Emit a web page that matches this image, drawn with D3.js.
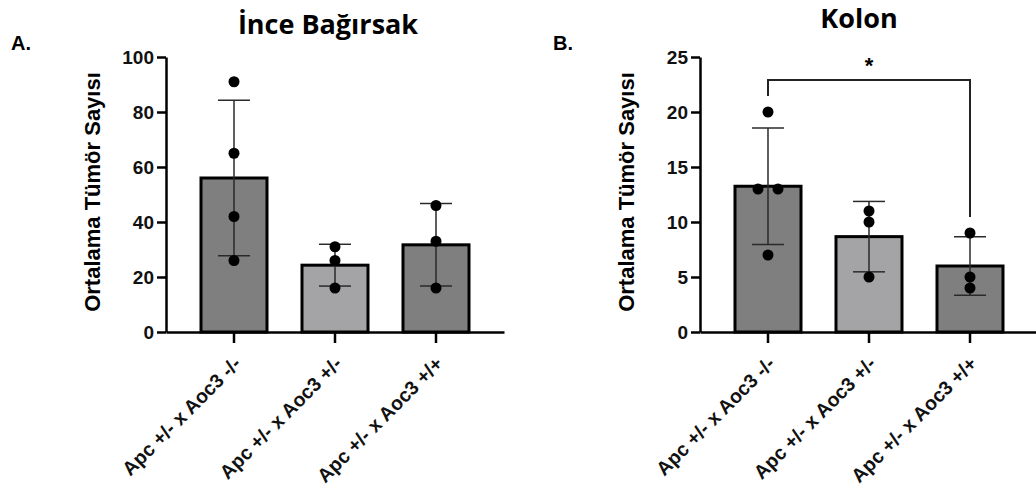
<!DOCTYPE html>
<html lang="tr">
<head>
  <meta charset="UTF-8">
  <title>Tümör Sayısı</title>
  <script src="https://d3js.org/d3.v7.min.js"></script>
  <style>
    body { margin: 0; background: #fff; }
    svg { display: block; }
    .axis path, .axis line { stroke: #000; stroke-width: 2.5; }
    .axis text { font-family: "Liberation Sans", Arial, sans-serif; font-weight: bold; fill: #111; }
  </style>
</head>
<body>
  <div id="chart"></div>
  <script>
    // veriler
    var categories = ["Apc +/- x Aoc3 -/-", "Apc +/- x Aoc3 +/-", "Apc +/- x Aoc3 +/+"];

    var inceMeans = [56, 24.3, 31.7];
    var inceSD = [28.3, 7.6, 15.0];
    var incePoints = [[91, 65, 42, 26], [31, 26, 16], [46, 33, 16]];
    var inceTicks = [0, 20, 40, 60, 80, 100];

    var kolonMeans = [13.25, 8.67, 6];
    var kolonSD = [5.3, 3.2, 2.65];
    var kolonPoints = [[20, 13, 13, 7], [11, 10, 5], [9, 5, 4]];
    var kolonTicks = [0, 5, 10, 15, 20, 25];
    var kolonSig = [{ from: 0, to: 2, label: "*" }];

    var barColors = ["#7f7f7f", "#a4a4a7", "#7f7f7f"];

    var W = 1036, H = 495;
    var svg = d3.select("#chart").append("svg").attr("width", W).attr("height", H);

    function drawPanel(opt) {
      var g = svg.append("g");
      var x = d3.scaleBand().domain(categories).range([opt.left, opt.right]).padding(0.3465);
      var y = d3.scaleLinear().domain([0, opt.max]).range([332, 57]);

      // başlık ve harf
      g.append("text").attr("x", opt.titleX).attr("y", opt.titleY)
        .attr("text-anchor", "middle")
        .style("font-family", "'Open Sans', sans-serif").style("font-weight", "bold").style("font-size", "27px")
        .text(opt.title);
      g.append("text").attr("x", opt.letterX).attr("y", 50)
        .style("font-family", "Liberation Sans, Arial, sans-serif").style("font-weight", "bold").style("font-size", "20px")
        .text(opt.letter);

      // y ekseni başlığı
      g.append("text")
        .attr("transform", "translate(" + (opt.left - 66) + "," + 192 + ") rotate(-90)")
        .attr("text-anchor", "middle")
        .style("font-family", "Liberation Sans, Arial, sans-serif").style("font-weight", "bold").style("font-size", "22px")
        .text("Ortalama Tümör Sayısı");

      // çubuklar
      g.selectAll(".bar").data(opt.means).enter().append("rect")
        .attr("x", (d, i) => x(categories[i]))
        .attr("y", d => y(d))
        .attr("width", x.bandwidth())
        .attr("height", d => y(0) - y(d))
        .attr("fill", (d, i) => barColors[i])
        .attr("stroke", "#000").attr("stroke-width", 3);

      // hata çubukları
      var cx = i => x(categories[i]) + x.bandwidth() / 2;
      opt.means.forEach(function (m, i) {
        var lo = y(m - opt.sd[i]), hi = y(m + opt.sd[i]);
        g.append("line").attr("x1", cx(i)).attr("x2", cx(i)).attr("y1", lo).attr("y2", hi)
          .attr("stroke", "#2a2a2a").attr("stroke-width", 1.5);
        [lo, hi].forEach(function (yy) {
          g.append("line").attr("x1", cx(i) - 16).attr("x2", cx(i) + 16).attr("y1", yy).attr("y2", yy)
            .attr("stroke", "#2a2a2a").attr("stroke-width", 1.5);
        });
      });

      // noktalar (aynı değerler yan yana)
      opt.points.forEach(function (pts, i) {
        pts.forEach(function (v, j) {
          var same = pts.filter(p => p === v).length;
          var k = pts.slice(0, j).filter(p => p === v).length;
          var off = same > 1 ? (k - (same - 1) / 2) * 20 : 0;
          g.append("circle").attr("cx", cx(i) + off).attr("cy", y(v)).attr("r", 5.5).attr("fill", "#000");
        });
      });

      // eksenler
      g.append("g").attr("class", "axis")
        .attr("transform", "translate(" + opt.left + ",0)")
        .call(d3.axisLeft(y).tickValues(opt.ticks).tickSize(9).tickSizeOuter(0).tickPadding(3))
        .selectAll("text").style("font-size", "19px");

      var xa = g.append("g").attr("class", "axis")
        .attr("transform", "translate(0," + y(0) + ")")
        .call(d3.axisBottom(x).tickSize(11).tickSizeOuter(0));
      xa.selectAll("text")
        .style("font-size", "19.5px")
        .attr("text-anchor", "end")
        .attr("dy", "0")
        .attr("y", 0)
        .attr("transform", "translate(8,33) rotate(-45)");

      // anlamlılık çizgisi
      (opt.sig || []).forEach(function (s) {
        var top = y(d3.max(opt.points[s.from].concat(opt.points[s.to]))) - 32;
        var l1 = y(d3.max(opt.points[s.from])) - 16, l2 = y(d3.max(opt.points[s.to])) - 16;
        g.append("path")
          .attr("d", "M" + cx(s.from) + "," + l1 + "V" + top + "H" + cx(s.to) + "V" + l2)
          .attr("fill", "none").attr("stroke", "#222").attr("stroke-width", 2);
        g.append("text").attr("x", (cx(s.from) + cx(s.to)) / 2).attr("y", top - 7)
          .attr("text-anchor", "middle")
          .style("font-family", "Liberation Sans, Arial, sans-serif").style("font-weight", "bold").style("font-size", "22px")
          .text(s.label);
      });
    }

    drawPanel({ left: 166, right: 504, max: 100, means: inceMeans, sd: inceSD, points: incePoints,
      ticks: inceTicks, title: "İnce Bağırsak", titleX: 328, titleY: 34, letter: "A.", letterX: 11 });
    drawPanel({ left: 700, right: 1038, max: 25, means: kolonMeans, sd: kolonSD, points: kolonPoints,
      ticks: kolonTicks, title: "Kolon", titleX: 859, titleY: 28, letter: "B.", letterX: 553, sig: kolonSig });
  </script>
</body>
</html>
